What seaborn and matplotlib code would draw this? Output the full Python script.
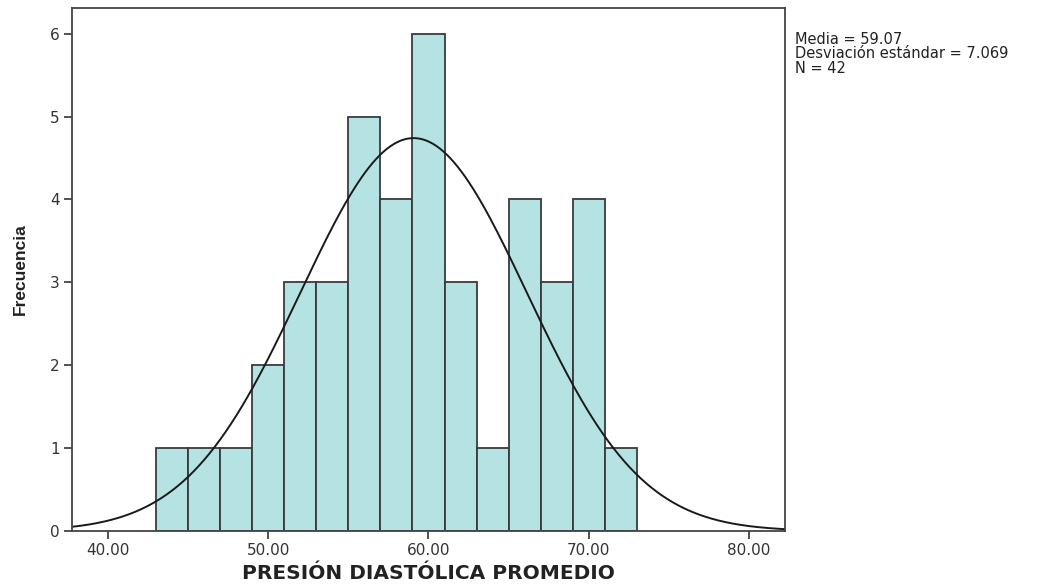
import numpy as np
import pandas as pd
import matplotlib
matplotlib.use("Agg")
import matplotlib.pyplot as plt
import seaborn as sns

bin_edges = [43, 45, 47, 49, 51, 53, 55, 57, 59, 61, 63, 65, 67, 69, 71, 73]
counts = [1, 1, 1, 2, 3, 3, 5, 4, 6, 3, 1, 4, 3, 4, 1]
mean_val = 59.07
sd_val = 7.069
n_val = 42
x_ticks = [40, 50, 60, 70, 80]
y_ticks = [0, 1, 2, 3, 4, 5, 6]

sns.set_theme(style="white")
plt.rcParams['font.family'] = ['DejaVu Sans']

fig = plt.figure(figsize=(10.37, 5.86), dpi=100)
ax = fig.add_axes([0.0694, 0.0939, 0.757 - 0.0694, 0.9863 - 0.0939])

centers = [(a + b) / 2 for a, b in zip(bin_edges[:-1], bin_edges[1:])]
df = pd.DataFrame({"x": centers, "w": counts})
sns.histplot(data=df, x="x", weights="w", bins=bin_edges, ax=ax,
             color="#b5e3e3", alpha=1.0, edgecolor="#3a3a3a", linewidth=1.3)

xs = np.linspace(37.75, 82.25, 400)
binw = bin_edges[1] - bin_edges[0]
ys = n_val * binw / (sd_val * np.sqrt(2 * np.pi)) * np.exp(-0.5 * ((xs - mean_val) / sd_val) ** 2)
sns.lineplot(x=xs, y=ys, ax=ax, color="#1a1a1a", linewidth=1.4)

ax.set_xlim(37.75, 82.25)
ax.set_ylim(0, 6.31)
ax.set_xticks(x_ticks)
ax.set_xticklabels([f"{v:.2f}" for v in x_ticks])
ax.set_yticks(y_ticks)
ax.set_yticklabels([str(v) for v in y_ticks])
ax.tick_params(axis="both", which="both", direction="out", length=6, width=1.3,
               color="#444444", labelsize=11, labelcolor="#333333",
               bottom=True, left=True, top=False, right=False, pad=3)
for s in ax.spines.values():
    s.set_color("#444444")
    s.set_linewidth(1.3)

ax.set_xlabel("PRESIÓN DIASTÓLICA PROMEDIO", fontsize=14.5, fontweight="bold",
              color="#222222", labelpad=4)
ax.set_ylabel("Frecuencia", fontsize=12.5, fontweight="bold", color="#222222",
              family=['Liberation Sans'], labelpad=16)

fig.text(795 / 1037, 1 - 32 / 586,
         f"Media = {mean_val:.2f}\nDesviación estándar = {sd_val:.3f}\nN = {n_val}",
         fontsize=10.5, color="#222222", va="top", ha="left", linespacing=0.95)

fig.savefig("out.png", dpi=100)
